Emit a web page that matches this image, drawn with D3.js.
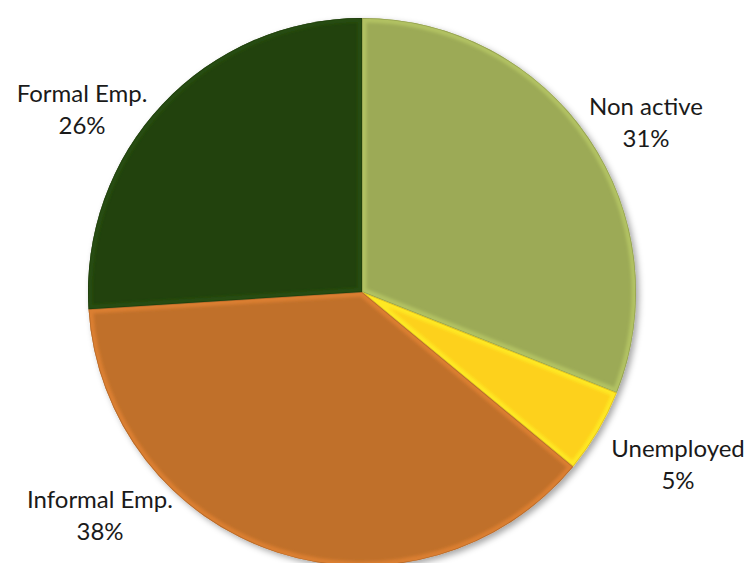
<!DOCTYPE html>
<html>
<head>
<meta charset="utf-8">
<script src="https://cdn.jsdelivr.net/npm/d3@7"></script>
<style>
  body { margin: 0; background: #fff; }
  .lbl { font-family: Lato, "Open Sans", sans-serif; font-size: 24px; fill: #1a1a1a; }
</style>
</head>
<body>
<script>
var categories = ["Non active", "Unemployed", "Informal Emp.", "Formal Emp."];
var values = [31, 5, 38, 26];
var colors = ["#9caa56", "#fdd11f", "#c06f2a", "#22420b"];

// where each label sits (layout only)
var labelAt = {
  "Non active": [646, 115],
  "Unemployed": [678, 457],
  "Informal Emp.": [100, 508],
  "Formal Emp.": [82, 102]
};

var width = 750, height = 563;
var cx = 362, cy = 292, radius = 274;

var svg = d3.select("body").append("svg").attr("width", width).attr("height", height);
var defs = svg.append("defs");

var shadow = defs.append("filter").attr("id", "shadow")
    .attr("x", "-10%").attr("y", "-10%").attr("width", "120%").attr("height", "120%");
shadow.append("feDropShadow").attr("dx", 3).attr("dy", 3).attr("stdDeviation", 3)
    .attr("flood-color", "#000").attr("flood-opacity", 0.35);

var blur = defs.append("filter").attr("id", "soft");
blur.append("feGaussianBlur").attr("stdDeviation", 1.8);

var data = categories.map(function (c, i) { return { name: c, value: values[i], color: colors[i] }; });

var pie = d3.pie().sort(null).value(function (d) { return d.value; });
var arc = d3.arc().innerRadius(0).outerRadius(radius);

var arcs = pie(data);

var g = svg.append("g").attr("transform", "translate(" + cx + "," + cy + ")");

g.append("g").attr("filter", "url(#shadow)")
  .selectAll("path").data(arcs).enter().append("path")
    .attr("d", arc)
    .attr("fill", function (d) { return d.data.color; });

// bevel highlight on edges
arcs.forEach(function (d, i) {
  defs.append("clipPath").attr("id", "clip" + i)
    .append("path").attr("d", arc(d));
  var s = g.append("g").attr("clip-path", "url(#clip" + i + ")");
  s.append("path")
    .attr("d", arc(d))
    .attr("fill", "none")
    .attr("stroke", d3.color(d.data.color).brighter(0.7))
    .attr("stroke-width", 9)
    .attr("stroke-opacity", 0.5)
    .attr("filter", "url(#soft)");
  s.append("path")
    .attr("d", arc(d))
    .attr("fill", "none")
    .attr("stroke", d3.color(d.data.color).darker(0.6))
    .attr("stroke-width", 1.5)
    .attr("stroke-opacity", 0.6);
});

var labels = svg.append("g").selectAll("text").data(arcs).enter().append("text")
    .attr("class", "lbl")
    .attr("text-anchor", "middle")
    .attr("transform", function (d) { return "translate(" + labelAt[d.data.name] + ")"; });

labels.append("tspan").attr("x", 0).attr("y", 0).text(function (d) { return d.data.name; });
labels.append("tspan").attr("x", 0).attr("y", 32).text(function (d) { return d.data.value + "%"; });
</script>
</body>
</html>
